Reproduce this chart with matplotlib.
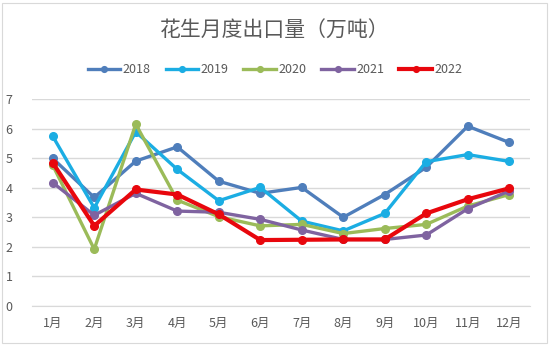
import matplotlib
matplotlib.use('Agg')
import matplotlib.pyplot as plt
import matplotlib.patches as mpatches

plt.rcParams['font.family'] = ['Noto Sans CJK SC', 'DejaVu Sans']

months = ['1月', '2月', '3月', '4月', '5月', '6月', '7月', '8月', '9月', '10月', '11月', '12月']
y2018 = [4.99, 3.67, 4.90, 5.38, 4.22, 3.81, 4.01, 3.00, 3.77, 4.69, 6.08, 5.53]
y2019 = [5.74, 3.32, 5.89, 4.62, 3.56, 4.01, 2.87, 2.54, 3.13, 4.88, 5.12, 4.89]
y2020 = [4.76, 1.92, 6.15, 3.58, 3.02, 2.71, 2.76, 2.45, 2.62, 2.76, 3.38, 3.77]
y2021 = [4.17, 3.07, 3.81, 3.21, 3.17, 2.93, 2.57, 2.25, 2.25, 2.40, 3.29, 3.89]
y2022 = [4.84, 2.71, 3.94, 3.77, 3.10, 2.23, 2.24, 2.25, 2.25, 3.13, 3.61, 3.98]

series = [('2018', y2018, '#4F7EBB', 2.4),
          ('2019', y2019, '#1BADE3', 2.4),
          ('2020', y2020, '#9BBB59', 2.4),
          ('2021', y2021, '#7F63A0', 2.4),
          ('2022', y2022, '#E8070D', 3.0)]

fig = plt.figure(figsize=(5.5, 3.48), dpi=100)
fig.patches.append(mpatches.Rectangle((2/550, 5/348), 545/550, 340/348, fill=False,
                                      edgecolor='#D9D9D9', linewidth=0.8, transform=fig.transFigure))
ax = fig.add_axes([32/550, 42/348, 498/550, 207/348])

x = range(len(months))
for name, vals, c, lw in series:
    ax.plot(x, vals, '-o', color=c, linewidth=lw, markersize=5.5, label=name, zorder=3)

ax.set_xlim(-0.5, len(months) - 0.5)
ax.set_ylim(0, 7)
ax.set_yticks(range(0, 8))
ax.set_xticks(list(x))
ax.set_xticklabels(months)
ax.grid(axis='y', color='#D9D9D9', linewidth=1)
ax.set_axisbelow(True)
for s in ['top', 'right', 'left']:
    ax.spines[s].set_visible(False)
ax.spines['bottom'].set_color('#D9D9D9')
ax.tick_params(length=0, labelsize=9, colors='#595959', pad=8)
ax.tick_params(axis='y', pad=14)

fig.text(0.5, 0.912, '花生月度出口量（万吨）', ha='center', va='center', fontsize=15, color='#595959')
fig.legend(loc='center', bbox_to_anchor=(0.5, 0.80), ncol=5, frameon=False, fontsize=9,
           handlelength=2.6, columnspacing=1.2, handletextpad=0.2, labelcolor='#595959',
           markerscale=0.75)

plt.savefig('out.png', dpi=100)
plt.close()
